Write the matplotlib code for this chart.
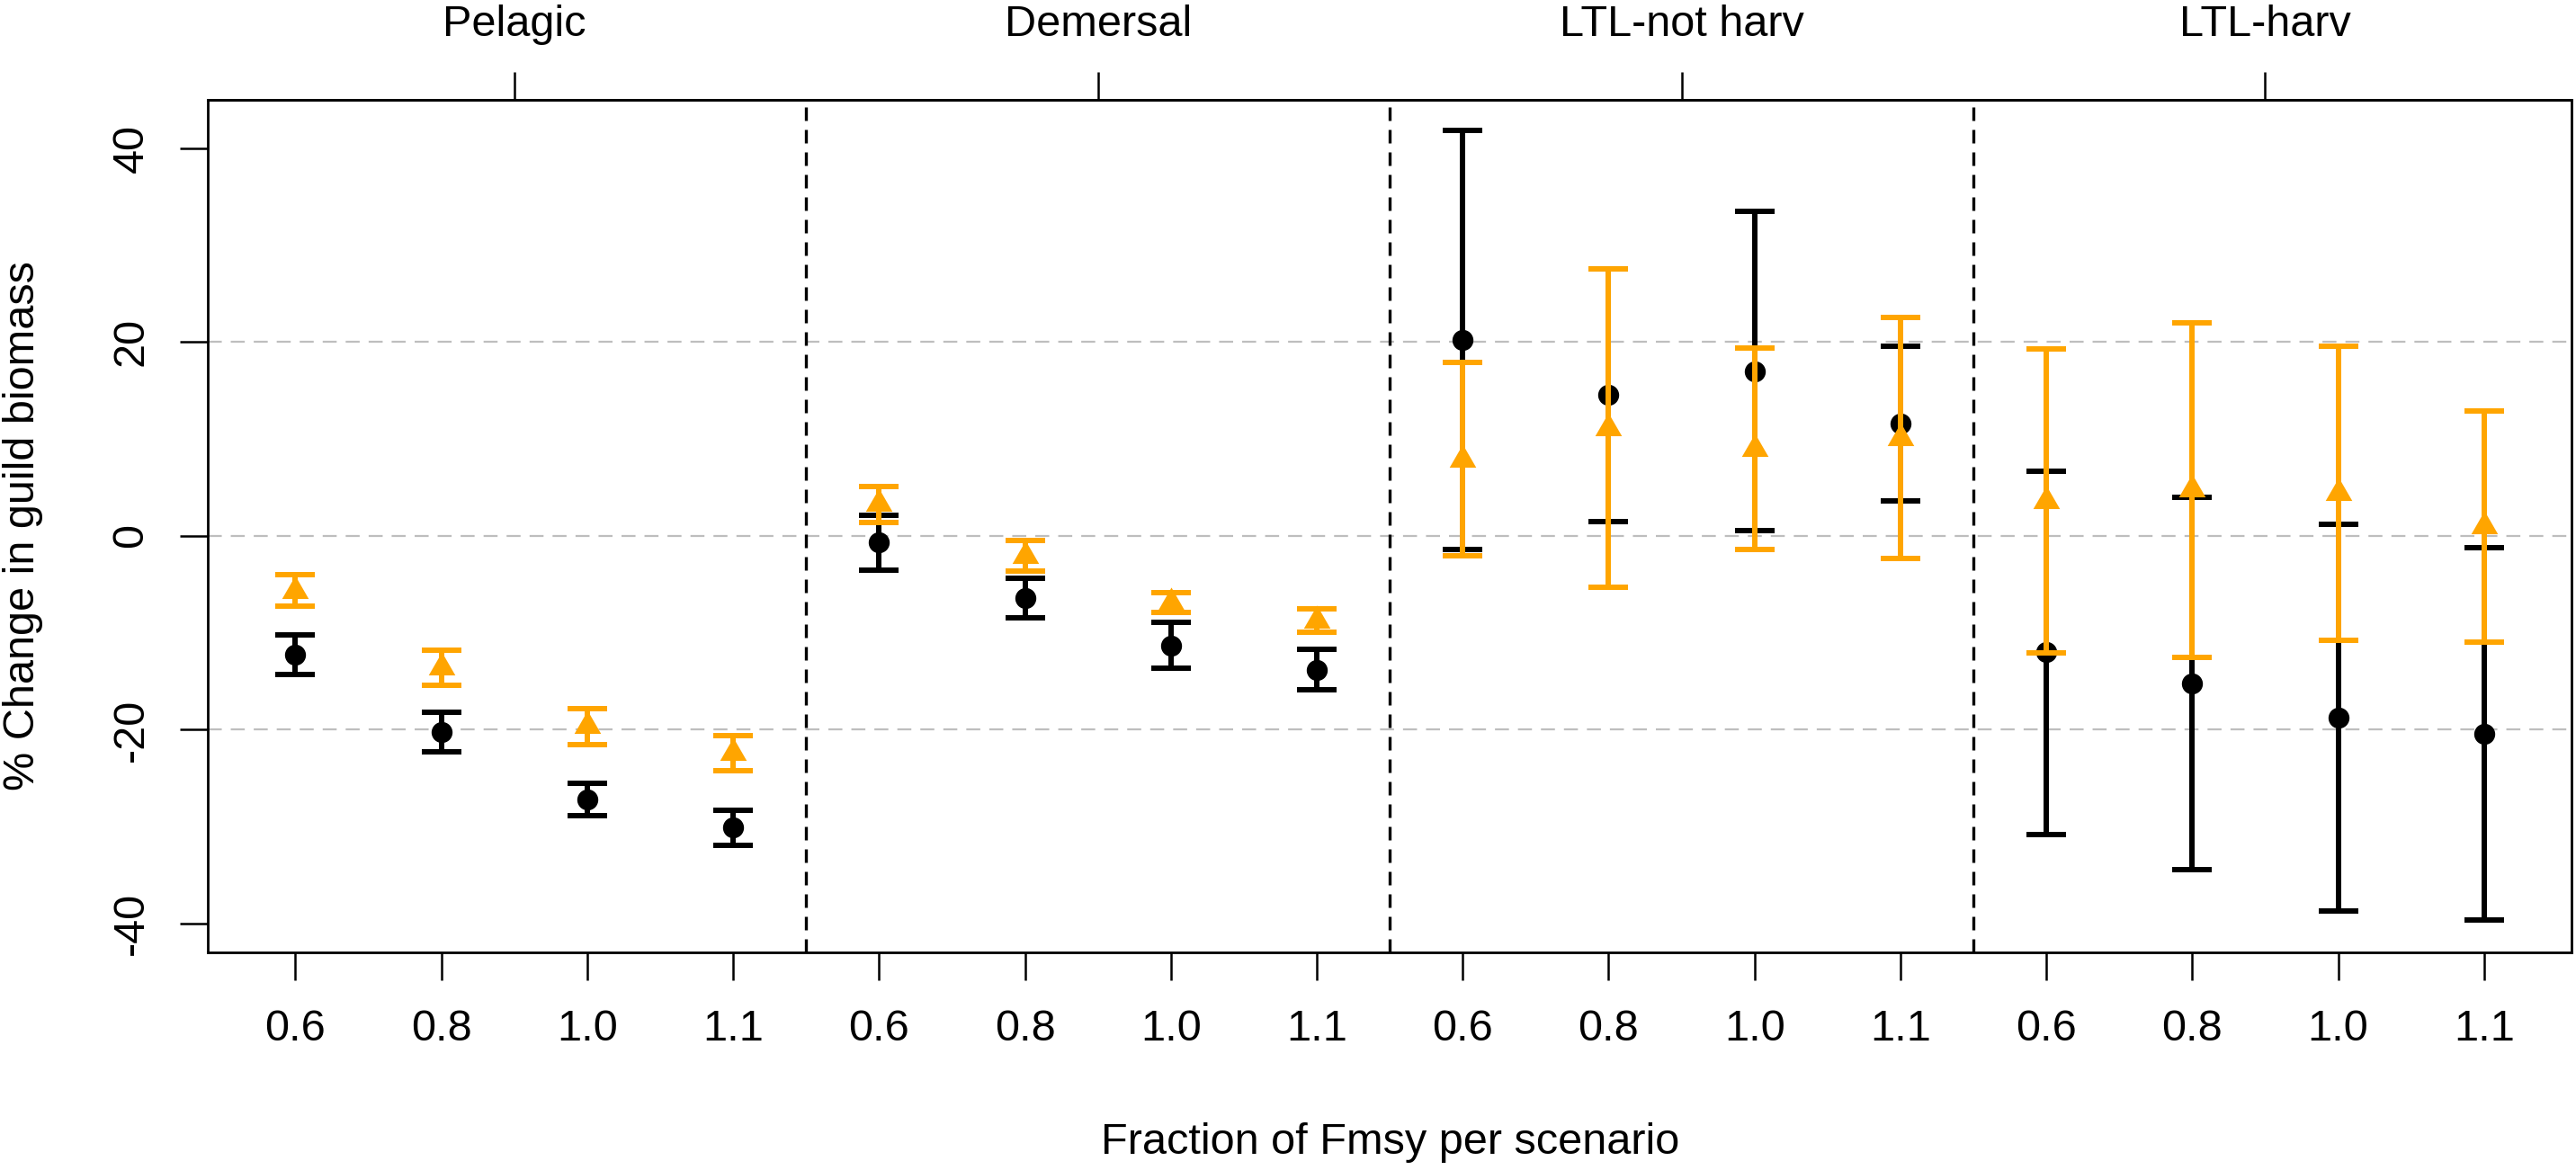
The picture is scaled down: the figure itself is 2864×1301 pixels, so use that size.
import numpy as np
import matplotlib
matplotlib.use('Agg')
import matplotlib.pyplot as plt

plt.rcParams['font.family'] = ['Liberation Sans', 'DejaVu Sans']

# guilds (top axis) and Fmsy fractions (bottom axis)
groups = ['Pelagic', 'Demersal', 'LTL-not harv', 'LTL-harv']
f_levels = ['0.6', '0.8', '1.0', '1.1']

# black series (circles): mean and interval ends, % change in biomass
black_mean = [-12.3, -20.2, -27.2, -30.1,
              -0.7, -6.4, -11.3, -13.8,
              20.2, 14.5, 17.0, 11.6,
              -12.0, -15.2, -18.8, -20.4]
black_lo = [-14.3, -22.3, -28.9, -31.9,
            -3.5, -8.5, -13.7, -15.9,
            -1.4, 1.5, 0.5, 3.6,
            -30.8, -34.4, -38.7, -39.6]
black_hi = [-10.2, -18.2, -25.5, -28.3,
            2.1, -4.4, -8.9, -11.7,
            41.8, 27.5, 33.5, 19.6,
            6.7, 4.0, 1.2, -1.2]

# orange series (triangles)
orange_mean = [-5.7, -13.6, -19.6, -22.4,
               3.3, -2.1, -6.9, -8.7,
               7.9, 11.1, 9.0, 10.1,
               3.6, 4.8, 4.4, 1.0]
orange_lo = [-7.3, -15.4, -21.5, -24.2,
             1.4, -3.6, -7.9, -9.9,
             -2.1, -5.3, -1.4, -2.3,
             -12.1, -12.5, -10.8, -11.0]
orange_hi = [-4.0, -11.8, -17.8, -20.6,
             5.1, -0.5, -5.9, -7.5,
             17.9, 27.5, 19.4, 22.5,
             19.3, 22.0, 19.6, 12.9]

x = np.arange(1, len(black_mean) + 1)
bm = np.array(black_mean)
om = np.array(orange_mean)
b_err = [bm - np.array(black_lo), np.array(black_hi) - bm]
o_err = [om - np.array(orange_lo), np.array(orange_hi) - om]

# R style equilateral triangle (pch 17)
tri = [(0, 1.555), (1.347, -0.778), (-1.347, -0.778)]

fig = plt.figure(figsize=(28.64, 13.01), dpi=100)
ax = fig.add_axes([0.0807, 0.186, 0.9176, 0.7289])

for yv in [-20, 0, 20]:
    ax.axhline(yv, color='#BEBEBE', lw=1.6, dashes=(7, 4.5), zorder=1)
for xv in [4.5, 8.5, 12.5]:
    ax.axvline(xv, color='black', lw=2.4, dashes=(4.5, 3), zorder=1)

ax.errorbar(x, bm, yerr=b_err, fmt='o', color='black', ms=15.8,
            elinewidth=4.3, capsize=16, capthick=4.3, zorder=3)
ax.errorbar(x, om, yerr=o_err, fmt='none', ecolor='#FFA500',
            elinewidth=4.3, capsize=16, capthick=4.3, zorder=4)
ax.plot(x, om, linestyle='none', marker=tri, ms=24.6, color='#FFA500',
        markeredgewidth=0, zorder=5)

ax.set_xlim(0.4, 16.6)
ax.set_ylim(-42.97, 45.0)

ax.set_xticks(x)
ax.set_xticklabels(f_levels * len(groups))
ax.set_yticks([-40, -20, 0, 20, 40])
ax.set_yticklabels(['-40', '-20', '0', '20', '40'], rotation=90, va='center')
ax.tick_params(axis='both', length=22, width=1.8, labelsize=35, pad=23)

top = ax.secondary_xaxis('top')
top.set_xticks([2.5, 6.5, 10.5, 14.5])
top.set_xticklabels(groups)
top.tick_params(length=22, width=1.8, labelsize=35, pad=22)
top.spines['top'].set_linewidth(2)

for s in ax.spines.values():
    s.set_linewidth(2)

ax.set_xlabel('Fraction of Fmsy per scenario', fontsize=35, va='center')
ax.xaxis.set_label_coords(0.5, -0.2225)
ax.set_ylabel('% Change in guild biomass', fontsize=35, va='center')
ax.yaxis.set_label_coords(-0.0784, 0.5)

fig.savefig('out.png', dpi=100)
